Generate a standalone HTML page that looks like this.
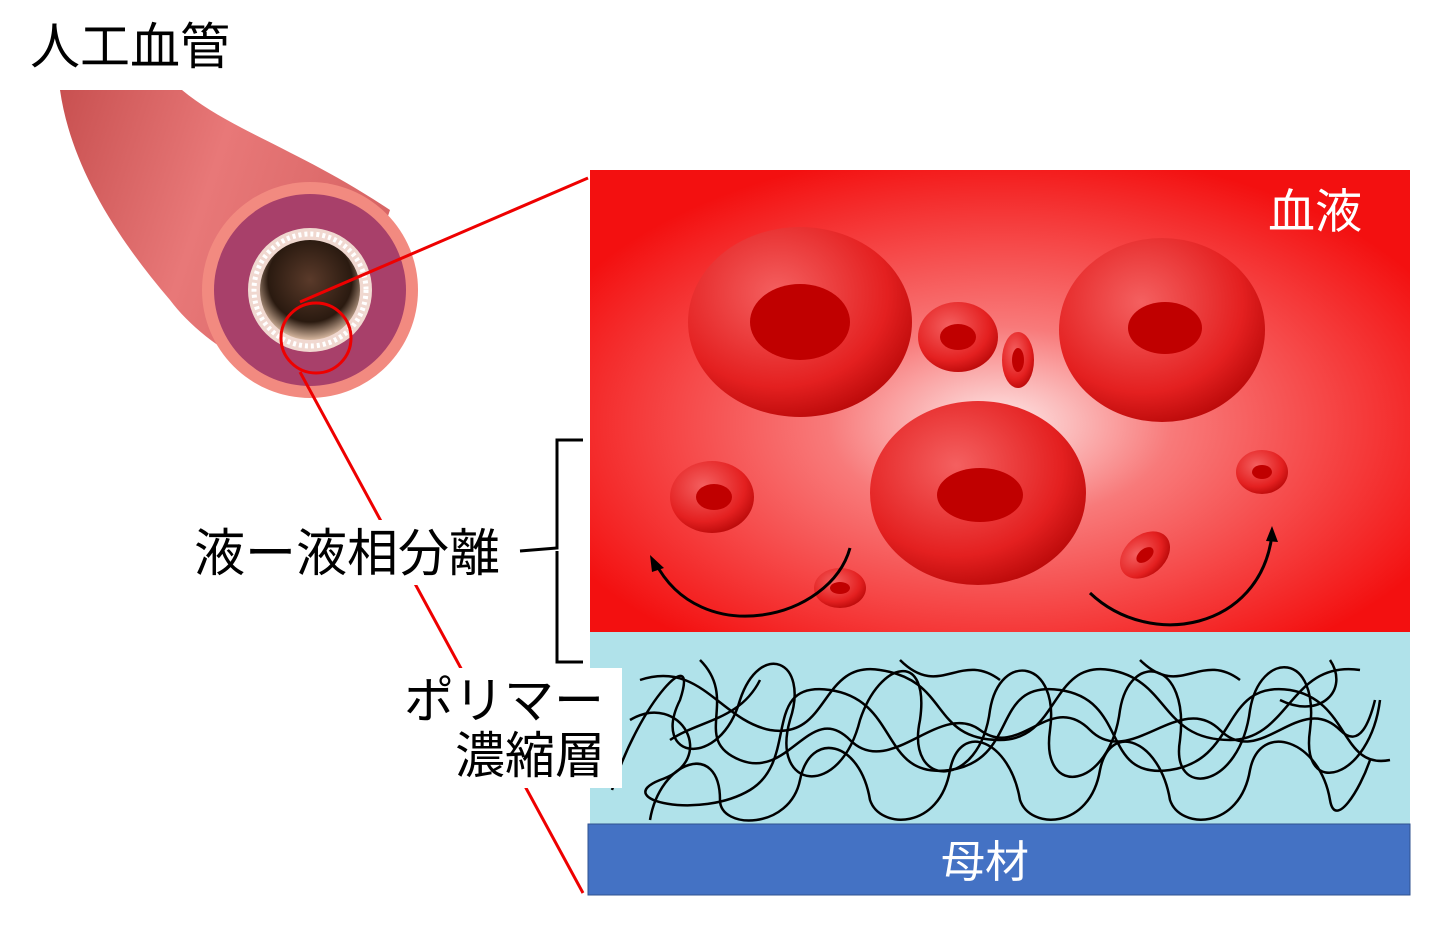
<!DOCTYPE html>
<html><head><meta charset="utf-8">
<style>
html,body{margin:0;padding:0;background:#fff;}
svg{display:block;}
text{font-family:"Liberation Sans","Noto Sans CJK JP",sans-serif;}
</style></head>
<body>
<svg width="1430" height="927" viewBox="0 0 1430 927" xmlns="http://www.w3.org/2000/svg">
<defs>
<radialGradient id="blood" cx="0.5" cy="0.55" r="0.6">
<stop offset="0" stop-color="#fde8e8"/>
<stop offset="0.35" stop-color="#f87a7a"/>
<stop offset="1" stop-color="#f31010"/>
</radialGradient>
<linearGradient id="tube" x1="0" y1="0" x2="1" y2="0.3">
<stop offset="0" stop-color="#c85050"/>
<stop offset="0.5" stop-color="#e87878"/>
<stop offset="1" stop-color="#d86565"/>
</linearGradient>
<radialGradient id="cell" cx="0.4" cy="0.35" r="0.7">
<stop offset="0" stop-color="#f46060"/>
<stop offset="0.7" stop-color="#e42020"/>
<stop offset="1" stop-color="#b80808"/>
</radialGradient>
<radialGradient id="hole" cx="0.5" cy="0.4" r="0.6">
<stop offset="0" stop-color="#5a3a2a"/>
<stop offset="0.7" stop-color="#2a1a10"/>
<stop offset="1" stop-color="#d8b8a0"/>
</radialGradient>
</defs>

<path d="M60,90 L182,90 C230,130 300,150 390,210 L330,390 C260,380 200,340 170,300 C110,230 70,160 60,90 Z" fill="url(#tube)"/>
<circle cx="310" cy="290" r="108" fill="#f28a80"/>
<circle cx="310" cy="290" r="96" fill="#a8406a"/>
<circle cx="310" cy="290" r="62" fill="#f0d8d0"/>
<circle cx="310" cy="290" r="56" fill="none" stroke="#fff" stroke-width="5" stroke-dasharray="3 3"/>
<circle cx="310" cy="290" r="50" fill="url(#hole)"/>
<circle cx="316" cy="338" r="35" fill="none" stroke="#e00" stroke-width="3"/>

<line x1="300" y1="302" x2="588" y2="178" stroke="#e00" stroke-width="3"/>
<line x1="300" y1="372" x2="583" y2="893" stroke="#e00" stroke-width="3"/>

<text x="30" y="64" font-size="50">人工血管</text>

<rect x="590" y="170" width="820" height="462" fill="url(#blood)"/>
<text x="1268" y="228" font-size="47" fill="#fff">血液</text>

<g>
<ellipse cx="800" cy="322" rx="112" ry="95" fill="url(#cell)"/>
<ellipse cx="800" cy="322" rx="50" ry="38" fill="#c00000"/>
<ellipse cx="1162" cy="330" rx="103" ry="92" fill="url(#cell)"/>
<ellipse cx="1165" cy="328" rx="37" ry="26" fill="#c00000"/>
<ellipse cx="978" cy="493" rx="108" ry="92" fill="url(#cell)"/>
<ellipse cx="980" cy="495" rx="43" ry="27" fill="#c00000"/>
<ellipse cx="958" cy="337" rx="40" ry="35" fill="url(#cell)"/>
<ellipse cx="958" cy="337" rx="18" ry="13" fill="#c00000"/>
<ellipse cx="1018" cy="360" rx="16" ry="28" fill="url(#cell)"/>
<ellipse cx="1018" cy="360" rx="6" ry="12" fill="#c00000"/>
<ellipse cx="712" cy="497" rx="42" ry="36" fill="url(#cell)"/>
<ellipse cx="714" cy="497" rx="18" ry="13" fill="#c00000"/>
<ellipse cx="1262" cy="472" rx="26" ry="22" fill="url(#cell)"/>
<ellipse cx="1262" cy="472" rx="10" ry="7" fill="#c00000"/>
<ellipse cx="1145" cy="555" rx="28" ry="20" transform="rotate(-40 1145 555)" fill="url(#cell)"/>
<ellipse cx="1145" cy="555" rx="10" ry="6" transform="rotate(-40 1145 555)" fill="#c00000"/>
<ellipse cx="840" cy="588" rx="26" ry="20" fill="url(#cell)"/>
<ellipse cx="840" cy="588" rx="10" ry="6" fill="#c00000"/>
</g>

<path d="M850,548 C830,620 700,650 655,562" fill="none" stroke="#000" stroke-width="3"/>
<polygon points="650,555 664,568 652,572" fill="#000"/>
<path d="M1090,593 C1150,650 1260,630 1272,535" fill="none" stroke="#000" stroke-width="3"/>
<polygon points="1272,526 1278,542 1266,541" fill="#000"/>

<rect x="590" y="632" width="820" height="192" fill="#b0e2ea"/>
<g fill="none" stroke="#000" stroke-width="2.5">
<path d="M612,790 C640,700 700,640 680,700 C650,760 720,770 740,700 C760,640 810,660 790,720 C770,790 840,800 860,720 C880,660 930,650 920,720 C905,790 980,790 990,710 C1000,650 1060,660 1050,730 C1040,800 1110,790 1120,710 C1130,650 1190,660 1180,740 C1170,800 1240,790 1250,710 C1260,650 1320,650 1310,730 C1300,800 1370,780 1380,700"/>
<path d="M630,720 C680,690 720,760 660,780 C610,800 700,820 750,790 C800,760 760,680 830,690 C900,700 880,780 950,770 C1020,760 990,680 1060,690 C1130,700 1100,780 1170,770 C1240,760 1220,680 1290,690 C1350,700 1340,770 1390,760"/>
<path d="M640,680 C700,660 720,720 770,730 C830,740 820,660 880,670 C950,680 930,740 1000,740 C1060,740 1050,660 1110,670 C1170,680 1160,740 1230,740 C1290,740 1290,660 1360,670"/>
<path d="M650,820 C660,760 720,740 720,800 C720,830 790,830 800,780 C810,730 860,740 870,800 C880,830 940,830 950,770 C960,720 1010,740 1020,800 C1030,830 1090,830 1100,770 C1110,720 1160,740 1170,800 C1180,830 1240,830 1250,770 C1260,720 1320,740 1330,800 C1335,830 1360,790 1370,760"/>
<path d="M700,660 C740,700 690,740 740,760 C790,780 810,700 850,740 C890,780 940,700 980,730 C1020,760 1050,690 1090,730 C1130,770 1180,690 1220,730 C1260,770 1300,690 1340,730 C1360,750 1370,720 1375,700"/>
<path d="M670,740 C700,720 740,720 760,680 M900,660 C940,700 960,650 1000,680 M1140,660 C1180,700 1200,650 1240,680 M1280,700 C1320,720 1350,690 1330,660"/>
</g>

<rect x="588" y="824" width="822" height="71" fill="#4472c4" stroke="#2f528f" stroke-width="1"/>
<text x="985" y="877" font-size="44" fill="#fff" text-anchor="middle">母材</text>

<rect x="190" y="520" width="325" height="65" fill="#fff"/>
<text x="194" y="571" font-size="51">液ー液相分離</text>
<path d="M583,440 L557,440 L557,548 L520,551 M557,551 L557,662 L583,662" fill="none" stroke="#000" stroke-width="3"/>
<rect x="400" y="668" width="222" height="120" fill="#fff"/>
<text x="404" y="718" font-size="50">ポリマー</text>
<text x="455" y="773" font-size="50">濃縮層</text>
</svg>
</body></html>
